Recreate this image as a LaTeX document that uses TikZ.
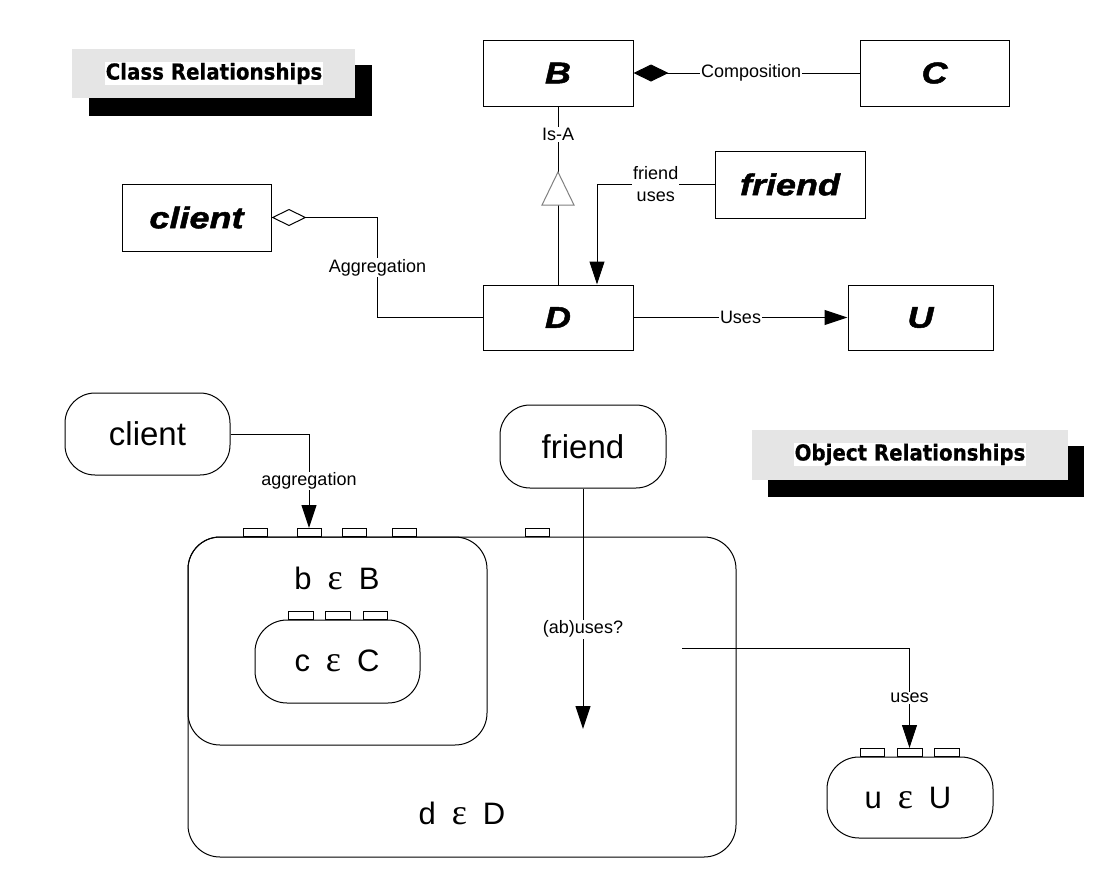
\documentclass[tikz,border=0pt]{standalone}
\usepackage{fontspec}
\setmainfont{Liberation Sans}
\newfontfamily\epsfont{Liberation Serif}
\newfontfamily\bannerfont[FakeStretch=0.9,FakeBold=0.6]{DejaVu Sans}
\newfontfamily\clsfont[FakeStretch=1.2,FakeBold=1.6]{Liberation Sans}
\usetikzlibrary{arrows.meta,calc}

\tikzset{
 cls/.style={draw, minimum width=150pt, minimum height=66pt, inner sep=0pt,
   font=\clsfont\bfseries\itshape\fontsize{30}{36}\selectfont},
 lbl/.style={fill=white, inner sep=1pt, font=\fontsize{18}{22}\selectfont},
 obj/.style={draw, rounded corners=30pt, inner sep=0pt, font=\fontsize{33}{38}\selectfont},
 objtxt/.style={inner sep=0pt, font=\fontsize{31}{36}\selectfont},
 port/.style={draw, fill=white, minimum width=24pt, minimum height=8pt, inner sep=0pt, anchor=south},
 arr/.style={-{Triangle[length=23pt,width=15pt]}},
 shadowbox/.style={fill=black},
 bannerbg/.style={fill=black!10},
 bannertxt/.style={fill=white, inner sep=1pt, font=\bannerfont\bfseries\fontsize{22}{26}\selectfont},
}
\newcommand{\epsm}{\hspace{16pt}{\epsfont\fontsize{36}{36}\selectfont ε}\hspace{16pt}}

\begin{document}
\begin{tikzpicture}[x=1pt,y=-1pt,line width=1pt]
\useasboundingbox (0,0) rectangle (1120,887);

% ---------- banners ----------
\fill[shadowbox] (89,65) rectangle (372,116);
\fill[bannerbg] (72,49) rectangle (355,98);
\node[bannertxt] (classtitle) at (214,73.5) {Class Relationships};

\fill[shadowbox] (768,446) rectangle (1084,497);
\fill[bannerbg] (752,430) rectangle (1068,480);
\node[bannertxt] (objtitle) at (910,454.5) {Object Relationships};

% ---------- class diagram ----------
\node[cls] (B) at (558,73) {B};
\node[cls, minimum width=149pt] (C) at (934.5,73) {C};
\node[cls, minimum height=67pt] (friend) at (790,184.5) {friend};
\node[cls, minimum width=149pt, minimum height=67pt] (client) at (196.5,217.5) {client};
\node[cls, minimum height=65pt] (D) at (558,317.5) {D};
\node[cls, minimum width=145pt, minimum height=65pt] (U) at (920.5,317.5) {U};

\draw[{Diamond[length=35pt,width=17pt]}-] (B.east) -- node[lbl,pos=0.52]{Composition} (C.west);

\draw (B.south) -- node[lbl,pos=0.156]{Is-A} (D.north);
\draw[gray, fill=white] (558,172) -- (574,205) -- (542,205) -- cycle;

\draw[arr] (friend.west) -| node[lbl,pos=0.25,align=center]{friend\\uses} ([xshift=39pt]D.north);

\draw[{Diamond[open,length=35pt,width=17pt]}-] (client.east) -| node[lbl,pos=0.75]{Aggregation} ($(D.west)+(-105,0)$) -- (D.west);

\draw[arr] (D.east) -- node[lbl,pos=0.5]{Uses} (U.west);

% ---------- object diagram ----------
\node[obj, minimum width=165pt, minimum height=82pt] (clientobj) at (147.5,434) {client};
\node[obj, minimum width=166pt, minimum height=83pt] (friendobj) at (583,446.5) {friend};

\node[draw, rounded corners=32pt, minimum width=548pt, minimum height=320pt, inner sep=0pt] (dobj) at (462,697) {};
\node[draw, rounded corners=32pt, minimum width=299pt, minimum height=208pt, inner sep=0pt] (bobj) at (337.5,641) {};
\node[draw, rounded corners=32pt, minimum width=165pt, minimum height=83pt, inner sep=0pt] (cobj) at (337.5,661.5) {};
\node[draw, rounded corners=32pt, minimum width=166pt, minimum height=81pt, inner sep=0pt] (uobj) at (910,797.5) {};

\node[objtxt] (btxt) at (337,578) {b\epsm B};
\node[objtxt] (ctxt) at (337,661) {c\epsm C};
\node[objtxt] (dtxt) at (462,813) {d\epsm D};
\node[objtxt] (utxt) at (908,798) {u\epsm U};

% ports
\node[port] (p1) at (255,537) {};
\node[port] (p2) at (309,537) {};
\node[port] (p3) at (354,537) {};
\node[port] (p4) at (404,537) {};
\node[port] (p5) at (537,537) {};
\node[port, minimum width=25pt] (c1) at (300.5,620) {};
\node[port, minimum width=25pt] (c2) at (337.5,620) {};
\node[port] (c3) at (375,620) {};
\node[port] (u1) at (872.5,757) {};
\node[port, minimum width=25pt] (u2) at (909.5,757) {};
\node[port, minimum width=25pt] (u3) at (947,757) {};

% connectors
\draw[arr] (clientobj.east) -| node[lbl,pos=0.75]{aggregation} (p2.north);

\coordinate (abtip) at (583,729);
\draw[arr] (friendobj.south) -- node[lbl,pos=0.585]{(ab)uses?} (abtip);

\coordinate (usesfrom) at (682,648);
\draw[arr] (usesfrom) -| node[lbl,pos=0.75]{uses} (u2.north);

\end{tikzpicture}
\end{document}
